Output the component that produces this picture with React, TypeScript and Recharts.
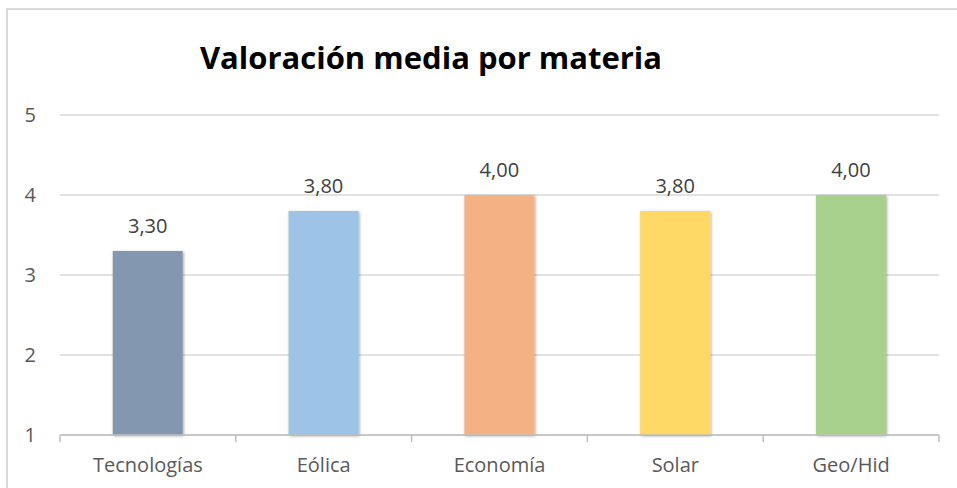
import React from "react";
import {
  BarChart,
  Bar,
  XAxis,
  YAxis,
  CartesianGrid,
  Cell,
  LabelList,
} from "recharts";

const categories = ["Tecnologías", "Eólica", "Economía", "Solar", "Geo/Hid"];
const values = [3.3, 3.8, 4.0, 3.8, 4.0];
const colors = ["#8497B0", "#9DC3E6", "#F4B183", "#FFD966", "#A9D18E"];
const yTicks = [1, 2, 3, 4, 5];

const data = categories.map((name, i) => ({ name, value: values[i] }));

const W = 957;
const H = 488;
const PLOT_LEFT = 60;
const PLOT_RIGHT = 939;
const HALF_BAND = (PLOT_RIGHT - PLOT_LEFT) / categories.length / 2;

const CategoryTick = (props: any) => {
  const { x, y, payload, index } = props;
  const axisY = y - 8;
  return (
    <g>
      <line x1={x - HALF_BAND} y1={axisY} x2={x - HALF_BAND} y2={axisY + 7} stroke="#bfbfbf" strokeWidth={1.5} />
      {index === categories.length - 1 && (
        <line x1={x + HALF_BAND} y1={axisY} x2={x + HALF_BAND} y2={axisY + 7} stroke="#bfbfbf" strokeWidth={1.5} />
      )}
      <text x={x} y={axisY + 37} textAnchor="middle" fill="#595959" fontSize={20} fontFamily="Open Sans">
        {payload.value}
      </text>
    </g>
  );
};

export default function App() {
  return (
    <div style={{ position: "absolute", left: 0, top: 0, width: W, height: H, background: "#fff" }}>
      <svg width={0} height={0} style={{ position: "absolute" }}>
        <defs>
          <filter id="barShadow" x="-20%" y="-10%" width="140%" height="120%">
            <feDropShadow dx={1} dy={1} stdDeviation={1.5} floodColor="#000" floodOpacity={0.35} />
          </filter>
        </defs>
      </svg>
      <div
        style={{
          position: "absolute",
          left: 6,
          top: 8,
          width: W,
          height: H,
          borderTop: "2px solid #d9d9d9",
          borderLeft: "2px solid #d9d9d9",
        }}
      />
      <svg width={W} height={90} style={{ position: "absolute", left: 0, top: 0 }}>
        <text
          x={431}
          y={69}
          textAnchor="middle"
          fontFamily="Open Sans"
          fontWeight={700}
          fontSize={31}
          fill="#000"
        >
          Valoración media por materia
        </text>
      </svg>
      <div style={{ position: "absolute", left: 0, top: 0 }}>
        <BarChart
          width={W}
          height={H}
          data={data}
          margin={{ top: 115, right: W - PLOT_RIGHT, bottom: 23, left: 0 }}
          barCategoryGap="30%"
        >
          <CartesianGrid vertical={false} stroke="#d9d9d9" strokeWidth={1.5} />
          <XAxis
            dataKey="name"
            axisLine={{ stroke: "#bfbfbf", strokeWidth: 1.5 }}
            tickLine={false}
            tick={<CategoryTick />}
            interval={0}
            height={30}
          />
          <YAxis
            domain={[1, 5]}
            ticks={yTicks}
            axisLine={false}
            tickLine={false}
            width={PLOT_LEFT}
            tickMargin={18}
            tick={{ fill: "#595959", fontSize: 20, fontFamily: "Open Sans" }}
          />
          <Bar dataKey="value" isAnimationActive={false} style={{ filter: "url(#barShadow)" }}>
            {data.map((d, i) => (
              <Cell key={d.name} fill={colors[i]} />
            ))}
            <LabelList
              dataKey="value"
              position="top"
              offset={18}
              fill="#404040"
              fontSize={20}
              fontFamily="Open Sans"
              formatter={(v: any) => Number(v).toFixed(2).replace(".", ",")}
            />
          </Bar>
        </BarChart>
      </div>
    </div>
  );
}
